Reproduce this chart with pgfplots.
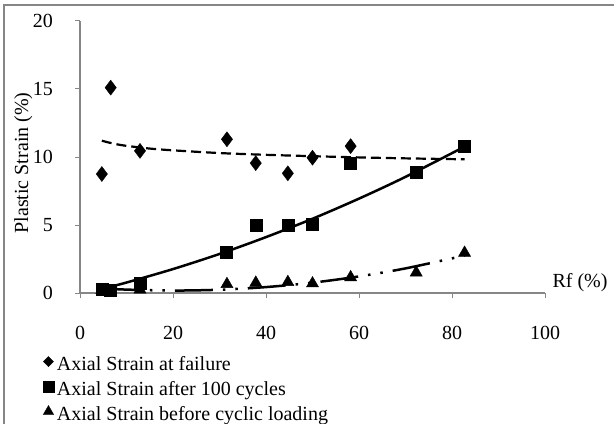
\documentclass[border=0pt]{standalone}
\usepackage{pgfplots}
\pgfplotsset{compat=1.18}
\usepackage{fontspec}
\setmainfont{Liberation Serif}
\definecolor{axgray}{RGB}{134,134,134}
\begin{document}
\begin{tikzpicture}[x=1bp,y=1bp,font=\fontsize{20bp}{24bp}\selectfont]
\useasboundingbox (0,0) rectangle (614,423);
\draw[axgray, line width=1.5bp] (4,-10) -- (4,418) -- (630,418);
\begin{axis}[
  at={(80bp,130bp)}, anchor=south west,
  scale only axis, width=465bp, height=272bp,
  xmin=0, xmax=100, ymin=0, ymax=20,
  axis lines*=left,
  axis line style={axgray, line width=1.2bp},
  xtick={0,20,...,100}, ytick={0,5,...,20},
  tick style={axgray, line width=1bp},
  tick align=outside, major tick length=5bp,
  /pgf/number format/assume math mode=true,
  ticklabel style={font=\fontsize{20bp}{24bp}\selectfont},
  yticklabel style={inner sep=0pt, anchor=east, xshift=-22bp},
  xticklabel style={inner sep=0pt, anchor=north, yshift=-28bp},
  clip=false,
  legend style={at={(axis description cs:-0.0796,-0.2280)}, anchor=north west,
    draw=none, fill=none, inner sep=0pt, outer sep=0pt,
    font=\fontsize{20bp}{24bp}\selectfont, row sep=0pt,
    nodes={inner sep=0pt, text height=15bp, text depth=10bp},
    /tikz/every odd column/.append style={column sep=3bp}},
  legend cell align=left,
  legend image code/.code={\draw[#1] plot coordinates {(5bp,6bp)};},
]
% trend lines
\addplot[black, line width=2.2bp, dash pattern=on 10bp off 5bp, smooth, forget plot] coordinates {
 (4.7,11.2) (6,11.08) (8,10.93) (10,10.82) (15,10.62) (20,10.49) (30,10.29) (40,10.16) (50,10.06) (60,9.97) (70,9.90) (82.7,9.83)};
\addplot[black, line width=2.5bp, smooth, forget plot] coordinates {
 (4.7,0.30) (10,0.77) (20,1.76) (30,2.87) (40,4.11) (50,5.46) (60,6.94) (70,8.54) (82.7,10.76)};
\addplot[black, line width=2.5bp, dash pattern=on 38bp off 10bp on 2.5bp off 10bp on 2.5bp off 10bp, smooth, forget plot] coordinates {
 (4.7,0.34) (10,0.25) (20,0.18) (30,0.24) (40,0.435) (50,0.76) (60,1.22) (70,1.81) (82.7,2.75)};
% data
\addplot[only marks, mark=diamond*, mark size=7.5bp, black, forget plot] coordinates {
 (4.7,8.75) (6.6,15.1) (12.9,10.45) (31.6,11.3) (37.8,9.55) (44.7,8.8) (50.0,9.95) (58.2,10.8)};
\addplot[only marks, mark=square*, mark size=6bp, black, forget plot] coordinates {
 (4.7,0.3) (6.6,0.2) (12.9,0.75) (31.5,3.0) (37.8,4.95) (44.7,4.95) (50.0,5.05) (58.2,9.55) (72.3,8.9) (82.7,10.8)};
\addplot[only marks, mark=triangle*, mark size=7bp, black, forget plot] coordinates {
 (4.7,0.2) (6.6,0.1) (12.9,0.25) (31.6,0.65) (37.8,0.75) (44.7,0.8) (50.0,0.7) (58.2,1.15) (72.3,1.5) (82.7,2.95)};
\addlegendimage{only marks, mark=diamond*, mark size=5bp, mark options={xscale=1.33}, black}
\addlegendentry{Axial Strain at failure}
\addlegendimage{only marks, mark=square*, mark size=5.5bp, black}
\addlegendentry{Axial Strain after 100 cycles}
\addlegendimage{only marks, mark=triangle*, mark size=6bp, black}
\addlegendentry{Axial Strain before cyclic loading}
\end{axis}
\node[anchor=base] at (580,136) {Rf (\%)};
\node[rotate=90, anchor=base] at (28,260) {Plastic Strain (\%)};
\end{tikzpicture}
\end{document}
